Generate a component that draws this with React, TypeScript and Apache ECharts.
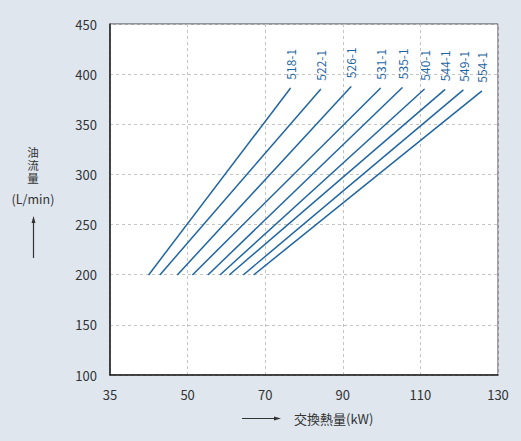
import React, { useEffect, useRef } from "react";
import * as echarts from "echarts";

const seriesNames = ["518-1", "522-1", "526-1", "531-1", "535-1", "540-1", "544-1", "549-1", "554-1"];
// start points (heat exchange kW at 200 L/min) and end points
const startX = [40.0, 42.9, 47.4, 51.3, 55.3, 58.4, 60.8, 64.4, 67.1];
const startY = [200, 200, 200, 200, 200, 200, 200, 200, 200];
const endX = [76.5, 84.3, 92.1, 99.7, 105.3, 111.0, 116.3, 121.0, 125.8];
const endY = [386, 385, 387.5, 386, 386.5, 385, 384.5, 384, 383];

const xTickLabels = ["35", "50", "70", "90", "110", "130"];
const yAxisTitle = ["油", "流", "量"];
const yAxisUnit = "(L/min)";
const xAxisTitle = "交換熱量(kW)";

const FONT = "'Noto Sans CJK JP', 'Noto Sans', sans-serif";
const TIGHT_FONT = "'Liberation Sans', 'Noto Sans CJK JP', sans-serif";
const LINE_COLOR = "#1f65a1";

export default function App() {
  const ref = useRef<HTMLDivElement>(null);
  useEffect(() => {
    if (!ref.current) return;
    const chart = echarts.init(ref.current, undefined, { renderer: "svg" });
    const series = seriesNames.map((name, i) => ({
      type: "line",
      name,
      showSymbol: true,
      symbol: "circle",
      symbolSize: 1,
      lineStyle: { color: LINE_COLOR, width: 1.5 },
      itemStyle: { color: LINE_COLOR },
      emphasis: { disabled: true },
      data: [
        { value: [startX[i], startY[i]] },
        {
          value: [endX[i], endY[i]],
          label: {
            show: true,
            formatter: name,
            position: "top",
            rotate: 90,
            align: "left",
            verticalAlign: "middle",
            distance: 6,
            offset: [2, 0],
            color: LINE_COLOR,
            fontSize: 12,
            fontFamily: FONT,
          },
        },
      ],
    }));
    chart.setOption({
      animation: false,
      backgroundColor: "#dfe6ee",
      textStyle: { fontFamily: FONT },
      grid: {
        left: 110,
        top: 24,
        right: 23,
        bottom: 66,
        show: true,
        backgroundColor: "#ffffff",
        borderColor: "#444",
        borderWidth: 1,
      },
      xAxis: {
        type: "value",
        min: 30,
        max: 130,
        interval: 20,
        axisLine: { show: true, lineStyle: { color: "#222", width: 1.5 } },
        axisTick: { show: false },
        splitLine: { show: true, lineStyle: { color: "#c4c4c4", type: [3, 3], width: 1 } },
        axisLabel: {
          color: "#333",
          fontSize: 13,
          margin: 13,
          fontFamily: FONT,
          formatter: (v: number) => xTickLabels[Math.round((v - 30) / 20)] ?? String(v),
        },
      },
      yAxis: {
        type: "value",
        min: 100,
        max: 450,
        interval: 50,
        axisLine: { show: true, lineStyle: { color: "#222", width: 1.5 } },
        axisTick: { show: false },
        splitLine: { show: true, lineStyle: { color: "#c4c4c4", type: [3, 3], width: 1 } },
        axisLabel: { color: "#333", fontSize: 13, margin: 13, fontFamily: FONT },
      },
      graphic: [
        ...yAxisTitle.map((ch, i) => ({
          type: "text",
          x: 33,
          y: 153 + i * 13,
          style: {
            text: ch,
            fill: "#333",
            fontSize: 11.5,
            fontFamily: TIGHT_FONT,
            align: "center",
            verticalAlign: "middle",
          },
        })),
        {
          type: "text",
          x: 33,
          y: 198,
          style: {
            text: yAxisUnit,
            fill: "#333",
            fontSize: 12.5,
            fontFamily: FONT,
            align: "center",
            verticalAlign: "middle",
          },
        },
        {
          type: "line",
          shape: { x1: 33.5, y1: 258, x2: 33.5, y2: 222 },
          style: { stroke: "#333", lineWidth: 1.2 },
        },
        {
          type: "polygon",
          shape: { points: [[33.5, 216], [31.5, 223], [35.5, 223]] },
          style: { fill: "#333" },
        },
        {
          type: "line",
          shape: { x1: 242, y1: 418.5, x2: 275, y2: 418.5 },
          style: { stroke: "#333", lineWidth: 1.2 },
        },
        {
          type: "polygon",
          shape: { points: [[281, 418.5], [274, 416.5], [274, 420.5]] },
          style: { fill: "#333" },
        },
        {
          type: "text",
          x: 294,
          y: 418,
          style: {
            text: xAxisTitle,
            fill: "#333",
            fontSize: 13,
            fontFamily: FONT,
            align: "left",
            verticalAlign: "middle",
          },
        },
      ],
      series,
    });
    return () => chart.dispose();
  }, []);
  return (
    <div
      ref={ref}
      style={{ position: "fixed", left: 0, top: 0, width: 521, height: 441 }}
    />
  );
}
